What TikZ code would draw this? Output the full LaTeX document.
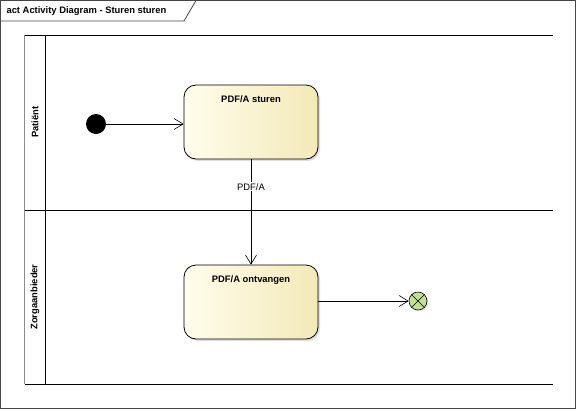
\documentclass[tikz,border=0pt]{standalone}
\usepackage{fontspec}
\setmainfont{Liberation Sans}
\usetikzlibrary{arrows.meta,positioning,shadows}

\definecolor{actleft}{RGB}{255,253,236}
\definecolor{actright}{RGB}{243,233,184}
\definecolor{finalgreen}{RGB}{196,222,150}
\definecolor{framegray}{RGB}{70,70,70}

\begin{document}
\begin{tikzpicture}[
      x=1pt, y=-1pt,
      every node/.style={font=\fontsize{9.4}{11}\selectfont},
      action/.style={
        draw, rounded corners=12pt, minimum width=134pt, minimum height=74pt,
        left color=actleft, right color=actright, line width=0.8pt,
        drop shadow={shadow xshift=2pt, shadow yshift=-2pt, fill=black!25}
      },
      lane/.style={rotate=90, font=\fontsize{9.4}{11}\selectfont\bfseries},
      flow/.style={->, line width=0.6pt},
      >={Straight Barb[length=9pt, width=11pt]}
    ]
    \useasboundingbox (0,0) rectangle (577,410);

    % KADER
    \draw[framegray, line width=0.8pt] (0.5,0.5) rectangle (575.5,408.5);
    \draw[framegray, line width=0.8pt] (0.5,21) -- (184,21) -- (196,0.5);
    \node[anchor=west, font=\fontsize{9.4}{11}\selectfont\bfseries] (titel) at (3,11) {act Activity Diagram - Sturen sturen};

    % SWIMLANES
    \draw[black!45, line width=0.8pt] (24.5,35) -- (24.5,384);
    \draw[line width=0.8pt] (45,35) -- (45,384);
    \draw[line width=0.8pt] (24.5,35) -- (553,35);
    \draw[line width=0.8pt] (24.5,210) -- (553,210);
    \draw[line width=0.8pt] (24.5,384) -- (553,384);
    \node[lane] (patient) at (35,122) {Patiënt};
    \node[lane] (zorg) at (35,297) {Zorgaanbieder};

    % NODES
    \node[circle, fill=black, minimum size=20pt, inner sep=0pt] (start) at (96,124) {};
    \node[action, label={[anchor=north, yshift=-8pt, font=\fontsize{9.4}{11}\selectfont\bfseries]north:PDF/A sturen}] (sturen) at (251,122) {};
    \node[action, label={[anchor=north, yshift=-8pt, font=\fontsize{9.4}{11}\selectfont\bfseries]north:PDF/A ontvangen}] (ontvangen) at (251,302) {};
    \node[circle, draw, fill=finalgreen, minimum size=18pt, inner sep=0pt, line width=0.6pt,
          drop shadow={shadow xshift=1.5pt, shadow yshift=-1.5pt, fill=black!20}] (einde) at (418,301) {};
    \draw[line width=0.6pt] (einde.north east) -- (einde.south west);
    \draw[line width=0.6pt] (einde.north west) -- (einde.south east);

    % PIJLEN
    \draw[flow] (start) -- (sturen.west |- start);
    \draw[flow] (sturen) -- node[fill=white, inner sep=1pt, pos=0.26] (pdfa) {PDF/A} (ontvangen);
    \draw[flow] (ontvangen.east |- einde) -- (einde);
\end{tikzpicture}
\end{document}
